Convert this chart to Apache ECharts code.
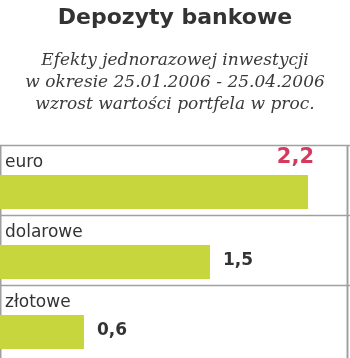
<!DOCTYPE html>
<html><head><meta charset="utf-8">
<script src="https://cdn.jsdelivr.net/npm/echarts@6/dist/echarts.min.js"></script>
<style>html,body{margin:0;padding:0;background:#fff}#c{width:350px;height:358px}</style>
</head><body><div id="c"></div><script>
const categories = ['euro', 'dolarowe', 'złotowe'];
const values = [2.2, 1.5, 0.6];
const valueLabels = ['2,2', '1,5', '0,6'];
const titleText = 'Depozyty bankowe';
const subtitleLines = ['Efekty jednorazowej inwestycji', 'w okresie 25.01.2006 - 25.04.2006', 'wzrost wartości portfela w proc.'];

const chart = echarts.init(document.getElementById('c'), null, {renderer: 'canvas'});
const maxIdx = values.indexOf(Math.max.apply(null, values));
const lineColor = '#a0a0a0';

const option = {
  animation: false,
  backgroundColor: '#fff',
  title: [
    {text: titleText, left: 'center', top: 5, padding: 0,
     textStyle: {fontFamily: 'DejaVu Sans', fontWeight: 'bold', fontSize: 22, color: '#333', lineHeight: 26}},
    {text: subtitleLines.join('\n'), left: 'center', top: 50, padding: 0,
     textStyle: {fontFamily: 'DejaVu Serif', fontStyle: 'italic', fontWeight: 'normal', fontSize: 17, color: '#3a3a3a', lineHeight: 22}}
  ],
  grid: {left: 0, right: 0, top: 145, bottom: 3},
  xAxis: {type: 'value', min: 0, max: 2.5, show: false},
  yAxis: {type: 'category', data: categories, inverse: true, show: false},
  series: [{
    type: 'custom',
    data: values.map((v, i) => [v, i]),
    encode: {x: 0, y: 1},
    renderItem: function (params, api) {
      const idx = params.dataIndex;
      const v = api.value(0);
      const c = api.value(1);
      const base = api.coord([0, c]);
      const end = api.coord([v, c]);
      const bandH = api.size([0, 1])[1];
      const cs = params.coordSys;
      const top = Math.round(base[1] - bandH / 2);
      const bottom = idx === categories.length - 1 ? api.getHeight() : top + bandH;
      const barH = 34;
      const barY = base[1] + 12 - barH / 2;
      const isMax = idx === maxIdx;
      const children = [
        {type: 'line', shape: {x1: cs.x, y1: top + 0.5, x2: cs.x + cs.width, y2: top + 0.5},
         style: {stroke: lineColor, lineWidth: 1.5}},
        {type: 'line', shape: {x1: cs.x + 0.5, y1: top, x2: cs.x + 0.5, y2: bottom},
         style: {stroke: lineColor, lineWidth: 2}},
        {type: 'line', shape: {x1: cs.x + cs.width - 2.5, y1: top, x2: cs.x + cs.width - 2.5, y2: bottom},
         style: {stroke: lineColor, lineWidth: 2}},
        {type: 'rect', shape: {x: base[0], y: barY, width: end[0] - base[0], height: barH},
         style: {fill: '#c6d63c'}},
        {type: 'text', x: cs.x + 5, y: top + 18,
         style: {text: categories[idx], fontFamily: 'DejaVu Sans', fontSize: 17, fill: '#333',
                 align: 'left', verticalAlign: 'middle'}}
      ];
      if (isMax) {
        children.push({type: 'text', x: end[0] + 6, y: barY - 17,
          style: {text: valueLabels[idx], fontFamily: 'DejaVu Sans', fontWeight: 'bold', fontSize: 21,
                  fill: '#d33a5e', align: 'right', verticalAlign: 'middle'}});
      } else {
        children.push({type: 'text', x: end[0] + 13, y: barY + barH / 2 - 1,
          style: {text: valueLabels[idx], fontFamily: 'DejaVu Sans', fontWeight: 'bold', fontSize: 17,
                  fill: '#333', align: 'left', verticalAlign: 'middle'}});
      }
      return {type: 'group', children: children};
    }
  }]
};
chart.setOption(option);
</script></body></html>
